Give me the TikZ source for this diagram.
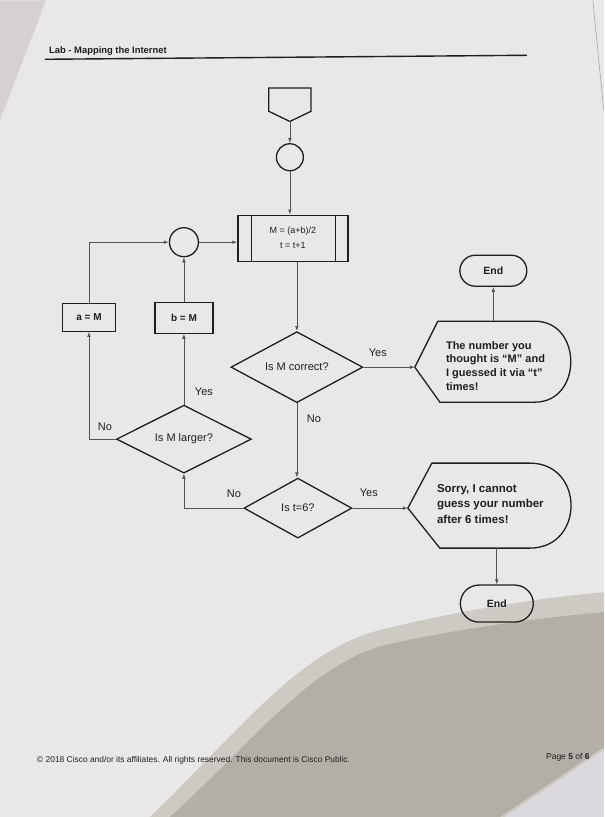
\documentclass[tikz,border=0pt]{standalone}
\usepackage{fontspec}
\setmainfont{Liberation Sans}
\usetikzlibrary{shapes.geometric,shapes.misc,arrows.meta,calc}
\definecolor{ink}{HTML}{1F1F1F}
\definecolor{wire}{HTML}{555555}
\definecolor{paper}{HTML}{E8E8E9}
\definecolor{backdrop}{HTML}{D5D1D2}
\definecolor{shadowtone}{HTML}{B3AFA7}
\definecolor{shadowsoft}{HTML}{CDCAC3}
\definecolor{cornertone}{HTML}{DCD9DE}
\begin{document}
\begin{tikzpicture}[x=1pt,y=-1pt,
  shapeline/.style={draw=ink, line width=1.3pt},
  box/.style={shapeline, rectangle, inner sep=0pt, text=ink},
  dec/.style={diamond, shapeline, inner sep=0pt, aspect=2, font=\fontsize{11}{13}\selectfont, text=ink},
  term/.style={rounded rectangle, shapeline, inner sep=0pt, font=\bfseries\fontsize{10.5}{12}\selectfont, text=ink},
  joint/.style={circle, shapeline, inner sep=0pt},
  flow/.style={draw=wire, line width=0.7pt, -{Latex[length=5pt,width=3.6pt]}},
  lbl/.style={font=\fontsize{11}{13}\selectfont, text=ink},
  msg/.style={anchor=north west, align=left, inner sep=0pt, text=ink},
]
% photo background and page
\fill[paper] (0,0) rectangle (604,817);
\fill[backdrop] (0,0) -- (46,0) -- (0,120) -- cycle;
\draw[gray!70, line width=0.6pt] (593,0) -- (604,110);
\fill[shadowsoft] (150,817) .. controls (240,730) and (300,650) .. (380,630) .. controls (460,610) and (540,598) .. (604,592) -- (604,817) -- cycle;
\fill[shadowtone] (170,817) .. controls (255,740) and (310,665) .. (385,645) .. controls (460,628) and (540,618) .. (604,612) -- (604,747) -- (500,817) -- cycle;
\fill[cornertone] (604,750) -- (604,817) -- (505,817) -- cycle;
\useasboundingbox (0,0) rectangle (604,817);

% header
\node[anchor=base west, inner sep=0pt, font=\bfseries\fontsize{9.4}{11}\selectfont, text=ink] (hdr) at (49,53) {Lab - Mapping the Internet};
\draw[ink, line width=1.4pt] (45,59) -- (527,55);

% start (off-page connector)
\node[minimum width=42pt, minimum height=33pt, inner sep=0pt] (start) at (290,104.5) {};
\draw[shapeline] (start.north west) -- (start.north east) -- ($(start.east)+(0,6.5)$) -- (start.south) -- ($(start.west)+(0,6.5)$) -- cycle;

\node[joint, minimum size=27pt] (c1) at (290,157) {};
\node[box, minimum width=110pt, minimum height=46pt, align=center, font=\fontsize{9}{15}\selectfont] (proc) at (293,238) {M = (a+b)/2\\t = t+1};
\draw[shapeline] ($(proc.north west)+(14,0)$) -- ($(proc.south west)+(14,0)$);
\draw[shapeline] ($(proc.north east)+(-13,0)$) -- ($(proc.south east)+(-13,0)$);

\node[joint, minimum size=29pt] (c2) at (184,242) {};
\node[box, minimum width=53pt, minimum height=28pt, font=\bfseries\fontsize{10}{12}\selectfont] (am) at (89,317) {a = M};
\node[box, minimum width=58pt, minimum height=31pt, font=\bfseries\fontsize{10}{12}\selectfont] (bm) at (184,317.5) {b = M};

\node[dec, minimum width=132pt, minimum height=71pt] (dc) at (297,367) {Is M correct?};
\node[dec, minimum width=135pt, minimum height=68pt] (dl) at (184,439) {Is M larger?};
\node[dec, minimum width=108pt, minimum height=60pt] (dt) at (298,508) {Is t=6?};

% display 1
\coordinate (d1in) at (415,367);
\coordinate (d1top) at (493.5,321);
\draw[shapeline] (d1in) -- (438,321) -- (535,321) .. controls (583,321) and (583,402) .. (535,402) -- (440,402) -- cycle;
\node[msg, font=\bfseries\fontsize{11}{13.6}\selectfont] (t1) at (446,341) {The number you\\thought is “M” and\\I guessed it via “t”\\times!};

% display 2
\coordinate (d2in) at (408,508);
\coordinate (d2bot) at (497,548);
\draw[shapeline] (d2in) -- (432,463) -- (530,463) .. controls (585,463) and (585,548) .. (530,548) -- (440,548) -- cycle;
\node[msg, font=\bfseries\fontsize{11.5}{15.5}\selectfont] (t2) at (437,484) {Sorry, I cannot\\guess your number\\after 6 times!};

\node[term, minimum width=67pt, minimum height=31pt] (e1) at (493.5,270.5) {End};
\node[term, minimum width=73pt, minimum height=37pt] (e2) at (497,603.5) {End};

% connectors
\draw[flow] (start.south) -- (c1.north);
\draw[flow] (c1.south) -- (c1.south |- proc.north);
\draw[flow] (c2.east) -- (c2.east -| proc.west);
\draw[flow] (am.north) |- (c2.west);
\draw[flow] (bm.north) -- (c2.south);
\draw[flow] (proc.south -| dc.north) -- (dc.north);
\draw[flow] (dc.east) -- (d1in);
\draw[flow] (d1top) -- (e1.south);
\draw[flow] (dc.south) -- (dc.south |- dt.north);
\draw[flow] (dt.east) -- (d2in);
\draw[flow] (d2bot) -- (e2.north);
\draw[flow] (dt.west) -| (dl.south);
\draw[flow] (dl.north) -- (bm.south);
\draw[flow] (dl.west) -| (am.south);

% labels
\node[lbl] (ly1) at (378,353) {Yes};
\node[lbl] (ln1) at (314,419) {No};
\node[lbl] (ly2) at (204,392) {Yes};
\node[lbl] (ln2) at (105,427) {No};
\node[lbl] (ln3) at (234,494) {No};
\node[lbl] (ly3) at (369,493) {Yes};

% footer
\node[anchor=base west, inner sep=0pt, font=\fontsize{8.4}{10}\selectfont, text=ink] (ftr) at (37,762) {© 2018 Cisco and/or its affiliates. All rights reserved. This document is Cisco Public.};
\node[anchor=base east, inner sep=0pt, font=\fontsize{8.5}{10}\selectfont, text=ink] (pg) at (590,759) {Page \textbf{5} of \textbf{6}};
\end{tikzpicture}
\end{document}
